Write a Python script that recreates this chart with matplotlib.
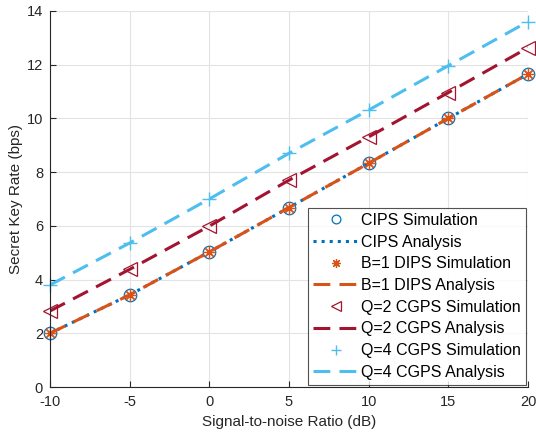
import matplotlib
matplotlib.use("Agg")
import matplotlib.pyplot as plt

snr = [-10, -5, 0, 5, 10, 15, 20]
cips_sim = [2.00, 3.43, 5.03, 6.68, 8.33, 10.00, 11.65]
cips_ana = [2.00, 3.43, 5.03, 6.68, 8.33, 10.00, 11.65]
dips_sim = [2.00, 3.43, 5.03, 6.68, 8.33, 10.00, 11.65]
dips_ana = [2.00, 3.43, 5.03, 6.68, 8.33, 10.00, 11.65]
q2_sim = [2.83, 4.38, 5.99, 7.70, 9.31, 10.96, 12.63]
q2_ana = [2.83, 4.38, 5.99, 7.70, 9.31, 10.96, 12.63]
q4_sim = [3.80, 5.36, 7.00, 8.70, 10.31, 11.96, 13.60]
q4_ana = [3.80, 5.36, 7.00, 8.70, 10.31, 11.96, 13.60]

xticks = [-10, -5, 0, 5, 10, 15, 20]
yticks = [0, 2, 4, 6, 8, 10, 12, 14]

plt.rcParams['font.family'] = ['Liberation Sans', 'DejaVu Sans']

fig = plt.figure(figsize=(5.36, 4.37), dpi=100)
ax = fig.add_axes([0.0933, 0.1144, 0.8917, 0.8606])

blue = '#0072BD'
orange = '#D95319'
dred = '#A2142F'
lblue = '#4DBEEE'
dash = (0, (5.5, 3))

ax.plot(snr, cips_sim, linestyle='none', marker='o', markersize=9, markerfacecolor='none',
        markeredgecolor=blue, markeredgewidth=0.9, label='CIPS Simulation', clip_on=False)
ax.plot(snr, cips_ana, linestyle=':', color=blue, linewidth=2.2, label='CIPS Analysis')
ax.plot(snr, dips_sim, linestyle='none', marker=(8, 2, 0), markersize=9,
        markeredgecolor=orange, markeredgewidth=0.9, color=orange, label='B=1 DIPS Simulation',
        clip_on=False)
ax.plot(snr, dips_ana, linestyle=dash, color=orange, linewidth=2.2, label='B=1 DIPS Analysis')
ax.plot(snr, q2_sim, linestyle='none', marker='<', markersize=10, markerfacecolor='none',
        markeredgecolor=dred, markeredgewidth=0.9, label='Q=2 CGPS Simulation', clip_on=False)
ax.plot(snr, q2_ana, linestyle=dash, color=dred, linewidth=2.2, label='Q=2 CGPS Analysis')
ax.plot(snr, q4_sim, linestyle='none', marker='+', markersize=10,
        markeredgecolor=lblue, markeredgewidth=1.0, label='Q=4 CGPS Simulation', clip_on=False)
ax.plot(snr, q4_ana, linestyle=dash, color=lblue, linewidth=2.2, label='Q=4 CGPS Analysis')

ax.set_xlim(-10, 20)
ax.set_ylim(0, 14)
ax.set_xticks(xticks)
ax.set_xticklabels([str(t) for t in xticks])
ax.set_yticks(yticks)
ax.grid(True, color='#e3e3e3', linewidth=0.8)
ax.set_axisbelow(True)
for side in ['top', 'right']:
    ax.spines[side].set_visible(False)
for side in ['left', 'bottom']:
    ax.spines[side].set_color('#262626')
    ax.spines[side].set_linewidth(0.8)
ax.tick_params(direction='in', length=4, colors='#262626', labelsize=10.5, width=0.8)
ax.tick_params(axis='x', pad=6)
ax.tick_params(axis='y', pad=5)
ax.set_xlabel('Signal-to-noise Ratio (dB)', fontsize=11, color='#262626', labelpad=4)
ax.set_ylabel('Secret Key Rate (bps)', fontsize=11, color='#262626', labelpad=3)

leg = ax.legend(loc='lower right', fontsize=11.5, frameon=True, fancybox=False,
                edgecolor='#262626', borderaxespad=0.15, handlelength=2.9, markerscale=0.7,
                labelspacing=0.42, borderpad=0.3, handletextpad=0.1)
leg.get_frame().set_linewidth(0.8)

fig.savefig('out.png', dpi=100)
